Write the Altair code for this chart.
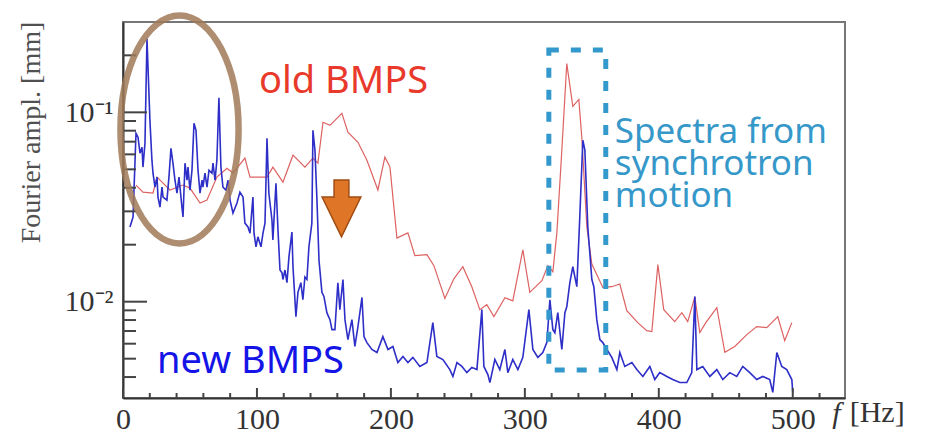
import altair as alt
import pandas as pd

# ---------------- data ----------------
# new BMPS (blue), frequency [Hz] and Fourier amplitude [mm]
new_f = [5.2, 7.5, 9.7, 11.2, 12.7, 14.2, 14.9, 16.4, 17.9, 20.1, 21.6, 22.4, 23.9, 25.4, 26.1, 27.6,
         29.1, 29.9, 32.8, 34.3, 35.8, 37.3, 38.8, 40.3, 41.8, 44.0, 44.8, 46.3, 47.8, 48.5, 50.0, 51.5,
         53.0, 54.5, 56.0, 57.5, 59.0, 59.7, 61.2, 62.7, 64.2, 66.4, 67.2, 68.7, 70.1, 71.6, 73.1, 74.6,
         76.9, 78.4, 79.9, 82.1, 85.1, 87.3, 89.6, 91.0, 93.3, 94.8, 97.0, 97.8, 99.3, 100.7, 103.0, 104.5,
         106.0, 107.5, 108.9, 111.2, 111.9, 114.2, 115.7, 117.2, 118.7, 119.4, 120.9, 122.4, 123.9, 126.1,
         126.9, 129.1, 130.6, 132.8, 134.3, 135.8, 137.3, 138.8, 141.0, 141.8, 143.3, 144.8, 146.3, 148.5,
         150.0, 152.2, 154.5, 156.0, 158.2, 160.4, 161.9, 164.2, 165.7, 167.9, 170.9, 173.1, 175.4, 178.4,
         179.9, 182.1, 185.8, 189.6, 194.0, 197.8, 201.5, 205.2, 209.0, 212.7, 216.4, 221.6, 226.9, 231.3,
         234.3, 238.8, 244.0, 246.3, 249.3, 253.0, 256.7, 260.4, 264.2, 267.9, 269.4, 272.4, 273.9, 277.6,
         281.3, 285.1, 287.3, 291.0, 294.8, 298.5, 303.0, 306.0, 309.7, 313.4, 316.4, 318.7, 320.9, 322.4,
         324.6, 327.6, 329.9, 331.3, 333.6, 335.8, 338.8, 341.0, 343.3, 344.8, 347.0, 350.0, 351.5, 353.7,
         356.0, 358.2, 361.2, 364.9, 368.7, 370.9, 374.6, 379.9, 383.6, 388.1, 393.3, 397.0, 400.7, 406.0,
         410.4, 415.7, 420.9, 424.6, 426.9, 428.4, 432.8, 438.1, 443.3, 447.8, 453.0, 458.2, 462.7, 467.9,
         473.1, 477.6, 482.8, 485.1, 488.1, 491.8, 495.5, 499.3, 500.0]
new_a = [0.0248, 0.0280, 0.0775, 0.0739, 0.0608, 0.0654, 0.0514, 0.0686, 0.245, 0.0908, 0.0559, 0.0477,
         0.0403, 0.0455, 0.0357, 0.0316, 0.0403, 0.0357, 0.0344, 0.0455, 0.0646, 0.0539, 0.0438, 0.0374,
         0.0455, 0.0316, 0.0280, 0.0539, 0.0438, 0.0514, 0.0388, 0.0495, 0.0875, 0.0804, 0.0495, 0.0374,
         0.0438, 0.0403, 0.0477, 0.0403, 0.0495, 0.0477, 0.0539, 0.0438, 0.0559, 0.1195, 0.0514, 0.0403,
         0.0388, 0.0438, 0.0344, 0.0294, 0.0332, 0.0379, 0.0357, 0.0260, 0.0248, 0.0230, 0.0357, 0.0230,
         0.0195, 0.0220, 0.0195, 0.0230, 0.0260, 0.0730, 0.0374, 0.0270, 0.0212, 0.0422, 0.0239, 0.0147,
         0.0142, 0.0131, 0.0147, 0.0126, 0.0173, 0.0233, 0.0153, 0.00834, 0.0112, 0.0126, 0.01024, 0.0135,
         0.0131, 0.0195, 0.0260, 0.0804, 0.0631, 0.0344, 0.0166, 0.0112, 0.01066, 0.00875, 0.00804, 0.00712,
         0.00712, 0.0126, 0.00908, 0.0131, 0.00804, 0.00631, 0.00804, 0.0058, 0.00739, 0.01053, 0.00654,
         0.00608, 0.00559, 0.00539, 0.00654, 0.00559, 0.0058, 0.00477, 0.00514, 0.00477, 0.00508, 0.00455,
         0.00477, 0.00775, 0.00514, 0.00495, 0.00438, 0.00403, 0.00477, 0.00455, 0.00422, 0.00450, 0.00438,
         0.00908, 0.00455, 0.00412, 0.00374, 0.00495, 0.00438, 0.00559, 0.00422, 0.00495, 0.00438, 0.00508,
         0.00908, 0.00559, 0.00508, 0.00539, 0.00608, 0.01024, 0.00712, 0.00686, 0.00875, 0.00559, 0.00875,
         0.0094, 0.0126, 0.0153, 0.0120, 0.0280, 0.0712, 0.0631, 0.0248, 0.0131, 0.0120, 0.00804, 0.00631,
         0.00608, 0.00559, 0.00508, 0.00438, 0.00539, 0.00455, 0.00477, 0.00438, 0.00403, 0.00455, 0.00388,
         0.00422, 0.00403, 0.00388, 0.00374, 0.00374, 0.00422, 0.01066, 0.00438, 0.00455, 0.00403, 0.00438,
         0.00388, 0.00422, 0.00403, 0.00455, 0.00422, 0.00388, 0.00403, 0.00388, 0.00332, 0.00539, 0.00455,
         0.00438, 0.00388, 0.00332]

# old BMPS (red)
old_f = [9.7, 14.9, 22.4, 25.4, 29.9, 35.1, 44.8, 50.0, 57.5, 62.7, 70.1, 77.6, 82.1, 91.0, 94.8, 107.5,
         111.9, 119.4, 126.9, 135.8, 141.8, 145.5, 149.3, 154.5, 163.4, 167.9, 175.4, 182.1, 190.3, 195.5,
         199.3, 204.5, 212.7, 217.9, 226.9, 232.1, 240.3, 247.0, 253.7, 260.4, 266.4, 271.6, 276.9, 285.1,
         291.0, 298.5, 303.7, 312.7, 317.2, 320.9, 323.9, 327.6, 331.3, 335.8, 340.3, 342.5, 346.3, 350.0,
         358.2, 364.9, 370.9, 376.1, 384.3, 391.0, 394.8, 399.3, 403.7, 411.9, 417.2, 421.6, 426.9, 430.6,
         435.1, 443.3, 449.3, 456.7, 465.7, 473.1, 480.6, 488.8, 494.0, 499.3]
old_a = [0.0413, 0.0379, 0.0375, 0.0455, 0.0423, 0.0389, 0.0413, 0.0398, 0.0332, 0.0344, 0.0455, 0.0507,
         0.0478, 0.0573, 0.0455, 0.0455, 0.0514, 0.0428, 0.0594, 0.0514, 0.0573, 0.0539, 0.0886, 0.0854,
         0.0988, 0.0785, 0.0695, 0.0559, 0.0389, 0.058, 0.0514, 0.0217, 0.0231, 0.0175, 0.0177, 0.0155,
         0.0104, 0.0132, 0.0153, 0.0120, 0.00908, 0.00964, 0.00834, 0.0105, 0.0101, 0.0188, 0.0112, 0.0129,
         0.0155, 0.0144, 0.0231, 0.0631, 0.181, 0.1075, 0.117, 0.0739, 0.0248, 0.0158, 0.0119, 0.0120,
         0.0124, 0.00897, 0.00775, 0.00703, 0.00695, 0.0157, 0.00908, 0.00785, 0.00875, 0.00785, 0.0106,
         0.00687, 0.00775, 0.0093, 0.0054, 0.0058, 0.0067, 0.00739, 0.0073, 0.00834, 0.00623, 0.00775]

# axis ticks
x_major = [0, 100, 200, 300, 400, 500]
x_minor = [20, 40, 60, 80, 120, 140, 160, 180, 220, 240, 260, 280, 320, 340, 360, 380, 420, 440, 460, 480, 520]
y_major = [0.01, 0.1]
y_minor = [0.004, 0.005, 0.006, 0.007, 0.008, 0.009, 0.02, 0.03, 0.04, 0.05, 0.06, 0.07, 0.08, 0.09, 0.2]

# annotations (data coordinates)
txt_old = ["old BMPS"]; txt_old_f = [101.5]; txt_old_a = [0.1266]
txt_new = ["new BMPS"]; txt_new_f = [25.4]; txt_new_a = [0.00421]
txt_syn = ["Spectra from", "synchrotron", "motion"]; txt_syn_f = [367.2, 367.2, 367.2]; txt_syn_a = [0.0689, 0.0467, 0.03166]
txt_unit = ["[Hz]"]; txt_unit_f = [542.5]; txt_unit_a = [0.00232]
ell_f = [42.2]; ell_a = [0.0812]
arr_f = [163.1]; arr_a = [0.0311]
box_f = [317.9]; box_f2 = [360.4]; box_a = [0.2136]; box_a2 = [0.00436]

# ---------------- chart ----------------
W, H = 722, 376
SERIF = "Liberation Serif"
SANS = "Noto Sans"

xs = alt.Scale(domain=[0, 539], nice=False, zero=False)
ys = alt.Scale(type="log", domain=[0.0031, 0.3], nice=False)

X = alt.X("f:Q", scale=xs, axis=alt.Axis(
    values=x_major, ticks=False, grid=False, domain=True, domainColor="#333", domainWidth=2,
    labelFont=SERIF, labelFontSize=30, labelColor="#333", labelPadding=6, labelFlush=False,
    title="f", titleFont=SERIF, titleFontSize=30, titleFontStyle="italic", titleFontWeight="normal",
    titleColor="#333", titleX=713, titleY=24, titleBaseline="alphabetic", titleAlign="center"))
Y = alt.Y("a:Q", scale=ys, axis=alt.Axis(
    values=y_major, ticks=False, grid=False, domain=True, domainColor="#333", domainWidth=2,
    labelExpr="datum.value < 0.05 ? '10⁻²' : '10⁻¹'",
    labelFont=SERIF, labelFontSize=30, labelColor="#333", labelPadding=10,
    title="Fourier ampl. [mm]", titleFont=SERIF, titleFontSize=28, titleFontWeight="normal",
    titleColor="#505050", titleX=-92, titleY=110, titleAngle=270, titleAlign="center",
    titleBaseline="middle"))

old_df = pd.DataFrame({"f": old_f, "a": old_a})
new_df = pd.DataFrame({"f": new_f, "a": new_a})

red = alt.Chart(old_df).mark_line(color="#d95050", strokeWidth=1.2, opacity=0.9).encode(x=X, y=Y)
blue = alt.Chart(new_df).mark_line(color="#2e2ec8", strokeWidth=1.6).encode(x=X, y=Y)

ytick_major = alt.Chart(pd.DataFrame({"a": y_major})).mark_rule(color="#444", strokeWidth=2).encode(
    y=Y, x=alt.value(0), x2=alt.value(24))
ytick_minor = alt.Chart(pd.DataFrame({"a": y_minor})).mark_rule(color="#444", strokeWidth=2).encode(
    y=Y, x=alt.value(0), x2=alt.value(13))
xtick_major = alt.Chart(pd.DataFrame({"f": x_major})).mark_rule(color="#444", strokeWidth=2).encode(
    x=X, y=alt.value(H), y2=alt.value(H - 10))
xtick_minor = alt.Chart(pd.DataFrame({"f": x_minor})).mark_rule(color="#444", strokeWidth=2).encode(
    x=X, y=alt.value(H), y2=alt.value(H - 5))

ellipse_path = ("M0,-1 C0.286,-1 0.518,-0.552 0.518,0 C0.518,0.552 0.286,1 0,1 "
                "C-0.286,1 -0.518,0.552 -0.518,0 C-0.518,-0.552 -0.286,-1 0,-1 Z")
ellipse = alt.Chart(pd.DataFrame({"f": ell_f, "a": ell_a})).mark_point(
    shape=ellipse_path, filled=False, stroke="#a07a58", strokeWidth=6.5, opacity=0.85,
    size=51984).encode(x=X, y=Y)

arrow_path = "M-0.26,-1 L0.26,-1 L0.26,-0.4 L0.68,-0.4 L0,1 L-0.68,-0.4 L-0.26,-0.4 Z"
arrow = alt.Chart(pd.DataFrame({"f": arr_f, "a": arr_a})).mark_point(
    shape=arrow_path, filled=True, fill="#df7526", stroke="#a04c12", strokeWidth=1.5, opacity=1,
    size=3249).encode(x=X, y=Y)

box = alt.Chart(pd.DataFrame({"f": box_f, "f2": box_f2, "a": box_a, "a2": box_a2})).mark_rect(
    fillOpacity=0, stroke="#3399cc", strokeWidth=5, strokeDash=[10, 12]).encode(
    x=X, x2="f2:Q", y=Y, y2="a2:Q")

def label(texts, fs, as_, color, size, font=SANS, style="normal"):
    df = pd.DataFrame({"f": fs, "a": as_, "t": texts})
    return alt.Chart(df).mark_text(align="left", baseline="alphabetic", font=font, fontSize=size,
                                   color=color, fontStyle=style).encode(x=X, y=Y, text="t:N")

t_old = label(txt_old, txt_old_f, txt_old_a, "#e8392b", 38)
t_new = label(txt_new, txt_new_f, txt_new_a, "#1414e6", 38)
t_syn = label(txt_syn, txt_syn_f, txt_syn_a, "#3698c9", 35)
t_unit = label(txt_unit, txt_unit_f, txt_unit_a, "#333", 30, font=SERIF)

chart = alt.layer(
    red, blue, ytick_major, ytick_minor, xtick_major, xtick_minor,
    ellipse, arrow, box, t_old, t_new, t_syn, t_unit
).properties(
    width=W, height=H,
    autosize=alt.AutoSizeParams(type="none"),
    padding={"left": 123, "top": 22, "right": 82, "bottom": 35},
    background="white",
).configure_view(stroke="#777", strokeWidth=2)

chart.save("out.html", embed_options={"renderer": "svg", "actions": False})
